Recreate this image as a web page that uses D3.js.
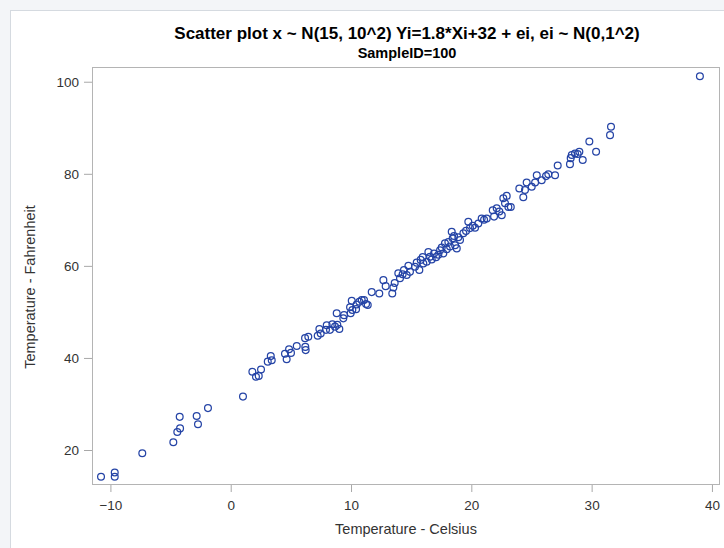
<!DOCTYPE html>
<html><head><meta charset="utf-8">
<script src="https://cdn.jsdelivr.net/npm/d3@7"></script>
<style>
html,body{margin:0;padding:0;background:#f3f5f8;}
svg{display:block;font-family:"Liberation Sans",Arial,sans-serif;}
</style></head>
<body>
<svg id="chart" width="724" height="548"></svg>
<script>
const celsius = [-10.78,-9.64,-9.64,-7.35,-4.77,-4.44,-4.21,-4.24,-2.83,-2.72,-1.89,1.02,1.80,2.10,2.33,2.52,3.08,3.33,3.41,
4.51,4.65,4.85,5.01,5.49,6.2,6.23,6.18,6.45,7.23,7.37,7.48,7.92,7.98,8.25,8.45,8.67,8.86,9.03,8.81,9.36,9.42,9.97,10.11,9.92,10.06,10.42,10.47,10.69,10.89,11.08,11.25,11.39,11.72,12.35,12.69,12.88,13.43,13.52,13.63,13.93,
14.07,14.29,14.4,14.63,14.77,14.9,15.32,15.46,15.68,15.79,15.96,16.01,16.29,16.43,16.57,16.71,16.9,17.07,17.26,17.4,17.54,17.67,17.81,17.96,18.09,18.23,18.37,18.45,18.56,18.65,18.79,18.92,19.06,19.34,19.56,19.75,19.89,20.12,20.31,20.58,20.86,21.06,21.28,21.78,21.89,22.11,22.33,22.53,22.66,22.8,22.94,23.08,23.28,
23.99,24.32,24.46,24.6,25.02,25.3,25.44,25.85,26.21,26.4,26.96,27.18,28.2,28.26,28.35,28.62,28.84,28.98,29.26,29.81,30.37,31.53,31.61,39.0];
const fahrenheit = [14.2,15.1,14.2,19.3,21.7,23.9,24.7,27.2,27.4,25.6,29.1,31.6,37.0,35.9,36.1,37.5,39.2,40.4,39.5,
40.9,39.7,41.9,41.1,42.6,42.4,41.7,44.3,44.6,44.8,46.3,45.3,46.1,47.1,46.1,47.3,46.8,47.2,46.3,49.7,48.6,49.3,49.7,50.4,51.0,52.4,50.6,51.6,52.2,52.6,52.6,51.7,51.5,54.3,54.0,56.9,55.6,54.0,55.3,56.3,58.4,
57.3,58.2,59.1,58.0,60.0,58.7,59.8,60.7,59.1,61.3,61.9,60.5,60.9,63.0,62.0,61.4,62.7,61.9,62.4,63.4,64.0,62.7,64.9,63.6,65.2,64.2,67.4,66.0,66.5,64.5,63.8,66.2,65.6,67.1,67.6,69.6,68.2,68.7,68.3,69.2,70.3,70.0,70.3,72.1,70.7,72.5,71.8,71.0,74.7,73.6,75.2,72.8,72.8,
76.8,74.9,76.5,78.1,77.2,78.1,79.7,78.6,79.5,79.9,79.7,81.8,82.1,83.4,84.1,84.4,84.3,84.8,83.0,87.0,84.8,88.4,90.2,101.2];
const xTicks = [-10,0,10,20,30,40];
const yTicks = [20,40,60,80,100];
const titleText = "Scatter plot x ~ N(15, 10^2) Yi=1.8*Xi+32 + ei, ei ~ N(0,1^2)";
const subtitleText = "SampleID=100";
const xLabel = "Temperature - Celsius";
const yLabel = "Temperature - Fahrenheit";

const data = celsius.map((c,i)=>({x:c,y:fahrenheit[i]}));
const svg = d3.select("#chart");
svg.append("rect").attr("x",10.5).attr("y",10.5).attr("width",740).attr("height",560)
  .attr("fill","#ffffff").attr("stroke","#d5dae0");

const L=92, R=720, T=67, B=485;
const x = d3.scaleLinear().domain([-11.53,40.67]).range([L,R]);
const y = d3.scaleLinear().domain([12.4,103.2]).range([B,T]);

const xAxis = svg.append("g").attr("transform",`translate(0,${B})`)
  .call(d3.axisBottom(x).tickValues(xTicks).tickSize(7).tickPadding(8).tickFormat(d3.format("d")));
const yAxis = svg.append("g").attr("transform",`translate(${L},0)`)
  .call(d3.axisLeft(y).tickValues(yTicks).tickSize(8).tickPadding(5).tickFormat(d3.format("d")));
[xAxis,yAxis].forEach(g=>{
  g.select(".domain").remove();
  g.selectAll(".tick line").attr("stroke","#a8a8a8");
  g.selectAll(".tick text").attr("fill","#333").style("font-size","13.5px").style("font-family","'Liberation Sans',Arial,sans-serif");
});
svg.append("rect").attr("x",L+0.5).attr("y",T+0.5).attr("width",R-L-1).attr("height",B-T-1)
  .attr("fill","none").attr("stroke","#b4b4b4");

svg.append("g").selectAll("circle").data(data).join("circle")
  .attr("cx",d=>x(d.x)).attr("cy",d=>y(d.y)).attr("r",3.4)
  .attr("fill","none").attr("stroke","#2544a6").attr("stroke-width",1.25);

svg.append("text").attr("x",(L+R)/2+1).attr("y",39).attr("text-anchor","middle")
  .style("font-size","17px").style("font-weight","bold").attr("fill","#000").text(titleText);
svg.append("text").attr("x",(L+R)/2+1).attr("y",58).attr("text-anchor","middle")
  .style("font-size","14.5px").style("font-weight","bold").attr("fill","#000").text(subtitleText);
svg.append("text").attr("x",(L+R)/2).attr("y",534).attr("text-anchor","middle")
  .style("font-size","14.5px").attr("fill","#333").text(xLabel);
svg.append("text").attr("transform",`translate(35,287) rotate(-90)`).attr("text-anchor","middle")
  .style("font-size","14.5px").attr("fill","#333").text(yLabel);
</script>
</body></html>
